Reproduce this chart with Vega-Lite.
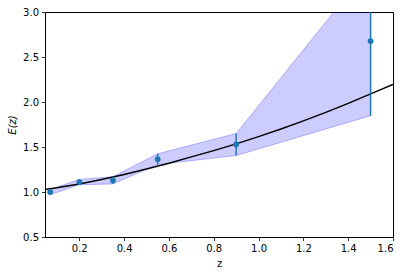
{
  "$schema": "https://vega.github.io/schema/vega-lite/v6.json",
  "width": 348,
  "height": 225,
  "autosize": {"type": "none"},
  "padding": {"left": 45, "top": 12, "right": 16, "bottom": 39},
  "background": "white",
  "config": {
    "view": {"stroke": "black", "strokeWidth": 1},
    "axis": {
      "grid": false,
      "domainColor": "black",
      "domainWidth": 1,
      "tickColor": "black",
      "tickSize": 3.5,
      "tickWidth": 0.8,
      "labelFont": "DejaVu Sans",
      "labelFontSize": 10,
      "labelColor": "black",
      "titleFont": "DejaVu Sans",
      "titleFontSize": 10,
      "titleFontWeight": "normal",
      "titleColor": "black",
      "labelPadding": 3
    }
  },
  "datasets": {
    "obs": [
      {"z": 0.07, "E": 1.0, "lo": 0.97, "hi": 1.03},
      {"z": 0.2, "E": 1.11, "lo": 1.08, "hi": 1.14},
      {"z": 0.35, "E": 1.13, "lo": 1.09, "hi": 1.17},
      {"z": 0.55, "E": 1.365, "lo": 1.305, "hi": 1.425},
      {"z": 0.9, "E": 1.528, "lo": 1.405, "hi": 1.65},
      {"z": 1.5, "E": 2.677, "lo": 1.847, "hi": 3.507}
    ],
    "model": [
      {"z": 0.047, "E": 1.028},
      {"z": 0.1, "E": 1.047},
      {"z": 0.2, "E": 1.09},
      {"z": 0.3, "E": 1.14},
      {"z": 0.4, "E": 1.195},
      {"z": 0.5, "E": 1.255},
      {"z": 0.6, "E": 1.32},
      {"z": 0.7, "E": 1.39},
      {"z": 0.8, "E": 1.46},
      {"z": 0.9, "E": 1.535},
      {"z": 1.0, "E": 1.615},
      {"z": 1.1, "E": 1.7},
      {"z": 1.2, "E": 1.79},
      {"z": 1.3, "E": 1.885},
      {"z": 1.4, "E": 1.985},
      {"z": 1.5, "E": 2.09},
      {"z": 1.6, "E": 2.195}
    ]
  },
  "encoding": {
    "x": {
      "field": "z",
      "type": "quantitative",
      "scale": {"domain": [0.047, 1.6], "nice": false, "zero": false},
      "axis": {"title": "z", "titleFontStyle": "normal", "values": [0.2, 0.4, 0.6, 0.8, 1.0, 1.2, 1.4, 1.6], "format": ".1f", "titlePadding": 5}
    }
  },
  "layer": [
    {
      "data": {"name": "obs"},
      "mark": {"type": "area", "color": "blue", "fillOpacity": 0.2, "stroke": "blue", "strokeOpacity": 0.25, "strokeWidth": 1, "clip": true},
      "encoding": {
        "y": {
          "field": "lo",
          "type": "quantitative",
          "scale": {"domain": [0.5, 3.0], "nice": false, "zero": false},
          "axis": {"title": "E(z)", "titleFontStyle": "italic", "values": [0.5, 1.0, 1.5, 2.0, 2.5, 3.0], "format": ".1f", "titlePadding": 5}
        },
        "y2": {"field": "hi"}
      }
    },
    {
      "data": {"name": "model"},
      "mark": {"type": "line", "color": "black", "strokeWidth": 1.5, "clip": true},
      "encoding": {"y": {"field": "E", "type": "quantitative"}}
    },
    {
      "data": {"name": "obs"},
      "mark": {"type": "rule", "color": "#1f77b4", "strokeWidth": 1.5, "clip": true},
      "encoding": {"y": {"field": "lo", "type": "quantitative"}, "y2": {"field": "hi"}}
    },
    {
      "data": {"name": "obs"},
      "mark": {"type": "point", "filled": true, "color": "#1f77b4", "opacity": 1, "size": 34, "clip": true},
      "encoding": {"y": {"field": "E", "type": "quantitative"}}
    }
  ]
}
